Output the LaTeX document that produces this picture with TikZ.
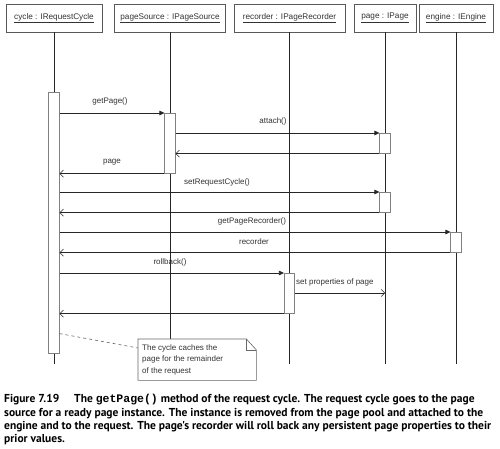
\documentclass[tikz,border=0pt]{standalone}
\usepackage{fontspec}
\setmainfont{Liberation Sans}
\setmonofont{Liberation Mono}
\newfontfamily\capfont{PT Sans}
\usetikzlibrary{arrows.meta}
\begin{document}
\begin{tikzpicture}[x=1pt,y=-1pt,
  head/.style={draw=black!65, line width=0.6pt, minimum height=28pt, inner sep=0, font=\fontsize{8.2}{10}\selectfont, text=black!80},
  life/.style={draw=black!85, line width=0.6pt},
  act/.style={draw=black!50, fill=white, line width=0.6pt, minimum width=10.5pt, inner sep=0, anchor=north},
  call/.style={draw=black!85, line width=0.6pt, -{Triangle[length=5pt,width=4.5pt]}},
  ret/.style={draw=black!85, line width=0.6pt, -{Straight Barb[length=3.5pt,width=7pt,line width=0.5pt]}},
  lbl/.style={font=\fontsize{8}{10}\selectfont, text=black!80, inner sep=0},
  captxt/.style={font=\capfont\bfseries\fontsize{11.5}{13}\selectfont, anchor=west, inner sep=0}
]
\useasboundingbox (0,0) rectangle (500,449);
\fill[white] (0,0) rectangle (500,449);
\coordinate (bot) at (0,364);

% heads
\node[head, minimum width=96pt]  (cyc) at (54,18)    {\underline{cycle : IRequestCycle}};
\node[head, minimum width=111pt] (ps)  at (170,18)   {\underline{pageSource : IPageSource}};
\node[head, minimum width=111pt] (rc)  at (289.5,18) {\underline{recorder : IPageRecorder}};
\node[head, minimum width=62pt]  (pg)  at (385,18)   {\underline{page : IPage}};
\node[head, minimum width=74pt]  (en)  at (456,18)   {\underline{engine : IEngine}};

% note (placed first for its anchors)
\node[lbl, anchor=north west, inner sep=0, minimum width=118pt, minimum height=41pt] (note) at (138,339) {};

% lifelines
\draw[life] (cyc.south) -- (cyc.south |- bot);
\draw[life] (ps.south) -- (ps.south |- note.north);
\draw[life] (rc.south) -- (rc.south |- bot);
\draw[life] (pg.south) -- (pg.south |- bot);
\draw[life] (en.south) -- (en.south |- bot);

% activations
\node[act, minimum height=261pt] (cycA) at (54,92) {};
\node[act, minimum height=60pt]  (psA)  at (170,113) {};
\node[act, minimum height=20pt]  (pgA1) at (385,133) {};
\node[act, minimum height=20pt]  (pgA2) at (385,192) {};
\node[act, minimum height=20pt]  (enA)  at (456,232) {};
\node[act, minimum height=40pt]  (rcA)  at (289.5,273) {};

% messages
\draw[call] (psA.north west -| cycA.east) -- (psA.north west);
\node[lbl] (m1) at (110,101) {getPage()};
\draw[call] (pgA1.north west -| psA.east) -- (pgA1.north west);
\node[lbl] (m2) at (273,121) {attach()};
\draw[ret] (pgA1.south west) -- (pgA1.south west -| psA.east);
\draw[ret] (psA.south west) -- (psA.south west -| cycA.east);
\node[lbl] (m4) at (112,162) {page};
\draw[call] (pgA2.north west -| cycA.east) -- (pgA2.north west);
\node[lbl] (m5) at (217,182) {setRequestCycle()};
\draw[ret] (pgA2.south west) -- (pgA2.south west -| cycA.east);
\draw[call] (enA.north west -| cycA.east) -- (enA.north west);
\node[lbl] (m7) at (252,221) {getPageRecorder()};
\draw[ret] (enA.south west) -- (enA.south west -| cycA.east);
\node[lbl] (m8) at (254,242) {recorder};
\draw[call] (rcA.north west -| cycA.east) -- (rcA.north west);
\node[lbl] (m9) at (170,262) {rollback()};
\coordinate (sp) at (385,293);
\draw[ret] (sp -| rcA.east) -- (sp -| pg.south);
\node[lbl, anchor=west] (m10) at (296,282) {set properties of page};
\draw[ret] (rcA.south west) -- (rcA.south west -| cycA.east);

% note outline and text
\fill[white] (note.north west) rectangle (note.south east);
\draw[black!60, line width=0.6pt] (note.north west) -- ([xshift=-10pt]note.north east) -- ([yshift=-11pt]note.north east) -- (note.south east) -- (note.south west) -- cycle;
\draw[black!60, line width=0.6pt] ([xshift=-10pt]note.north east) -- ([xshift=-10pt,yshift=-11pt]note.north east) -- ([yshift=-11pt]note.north east);
\node[lbl, align=left, anchor=north west, font=\fontsize{8}{11.3}\selectfont] (notetext) at (142,344.5) {The cycle caches the\\page for the remainder\\of the request};
\draw[black!60, dashed, line width=0.6pt] ([yshift=20pt]cycA.south east) -- ([yshift=-9pt]note.north west);

% caption
\node[captxt] (cap1) at (4,400) {Figure 7.19\hspace{1.3em}The {\ttfamily getPage()} method of the request cycle. The request cycle goes to the page};
\node[captxt] (cap2) at (4,413.5) {source for a ready page instance. The instance is removed from the page pool and attached to the};
\node[captxt] (cap3) at (4,427) {engine and to the request. The page's recorder will roll back any persistent page properties to their};
\node[captxt] (cap4) at (4,440) {prior values.};
\end{tikzpicture}
\end{document}
